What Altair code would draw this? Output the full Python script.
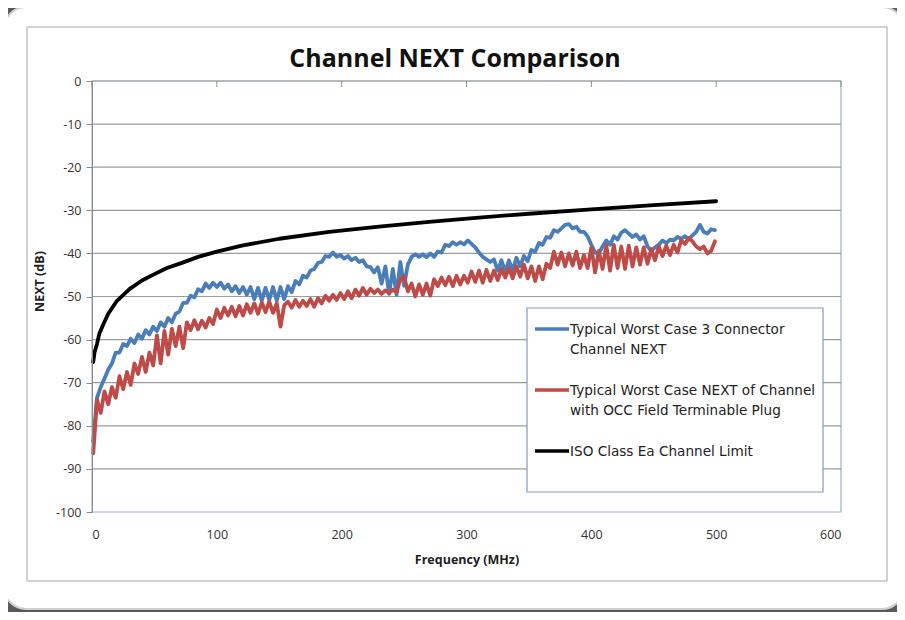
import altair as alt
import pandas as pd

# ---------------- data ----------------
FREQ_START = 1      # MHz, first sweep point
FREQ_STEP = 3       # MHz between sweep points

BLUE = [
    -83.7, -73.5, -71.0, -69.0, -67.0, -65.5, -63.0, -63.0, -61.0, -61.5,
    -59.8, -60.8, -58.8, -59.8, -57.8, -58.8, -57.0, -58.0, -56.0, -57.0,
    -55.0, -56.0, -54.0, -53.5, -51.5, -51.5, -49.8, -50.2, -48.3, -48.8,
    -47.0, -48.0, -46.8, -47.8, -46.8, -48.2, -47.2, -48.8, -47.6, -49.2,
    -47.8, -49.6, -47.8, -50.6, -48.0, -51.0, -48.0, -50.8, -47.8, -51.0,
    -47.8, -50.6, -47.6, -49.0, -46.4, -47.2, -45.2, -45.6, -44.0, -43.6,
    -42.2, -42.0, -40.6, -40.8, -39.8, -40.8, -40.4, -41.2, -40.6, -41.6,
    -41.0, -42.0, -41.6, -43.0, -43.2, -44.4, -43.2, -47.0, -43.0, -49.4,
    -43.6, -49.6, -42.0, -47.5, -42.6, -40.8, -40.2, -40.8, -40.2, -40.9,
    -40.0, -40.8, -39.6, -39.8, -38.0, -38.3, -37.4, -38.0, -37.4, -37.9,
    -37.0, -37.8, -38.6, -39.8, -40.8, -41.4, -42.0, -41.4, -44.0, -41.6,
    -44.2, -41.6, -44.0, -41.0, -43.0, -40.6, -41.8, -39.2, -39.6, -37.6,
    -38.0, -36.2, -36.4, -34.6, -35.0, -34.2, -33.4, -33.2, -34.2, -33.8,
    -35.0, -35.0, -36.0, -38.0, -39.8, -40.0, -38.4, -37.0, -38.0, -36.0,
    -36.8, -35.2, -34.6, -35.4, -36.2, -35.6, -36.8, -36.0, -38.4, -39.4,
    -38.6, -38.0, -37.0, -37.6, -36.8, -37.0, -36.2, -36.6, -36.0, -36.8,
    -35.8, -35.0, -33.4, -35.0, -35.4, -34.4, -34.6,
]

RED = [
    -86.4, -74.0, -77.0, -72.0, -75.0, -71.0, -73.5, -68.5, -71.5, -67.5,
    -70.5, -65.5, -68.0, -64.0, -67.5, -63.0, -66.0, -59.0, -65.5, -58.0,
    -63.5, -57.5, -61.5, -57.0, -62.0, -56.0, -57.8, -55.5, -57.6, -55.6,
    -57.2, -55.0, -56.4, -53.0, -55.0, -52.6, -54.4, -52.4, -54.6, -52.2,
    -54.4, -51.8, -53.8, -51.6, -54.0, -51.4, -53.6, -51.2, -53.8, -51.6,
    -57.0, -52.0, -51.2, -52.6, -50.8, -52.4, -51.0, -52.2, -50.6, -52.4,
    -50.4, -51.6, -49.8, -51.0, -49.6, -50.8, -49.2, -50.6, -48.8, -50.4,
    -48.4, -49.8, -48.0, -49.6, -48.2, -49.2, -48.4, -49.4, -48.6, -49.2,
    -48.4, -49.0, -46.0, -45.4, -48.8, -47.0, -50.0, -47.2, -49.6, -47.0,
    -49.8, -46.0, -47.6, -45.6, -47.4, -45.4, -47.6, -45.2, -47.2, -45.2,
    -46.8, -44.2, -46.6, -44.0, -46.8, -43.8, -46.4, -44.0, -46.2, -43.6,
    -45.6, -43.4, -45.8, -43.0, -45.4, -42.6, -45.8, -43.0, -46.4, -43.0,
    -46.0, -42.4, -43.4, -39.6, -42.6, -39.8, -43.0, -40.0, -42.8, -39.6,
    -43.4, -40.4, -43.4, -38.6, -44.4, -39.4, -43.6, -38.2, -44.0, -38.0,
    -43.4, -38.4, -43.6, -38.2, -43.0, -38.6, -42.6, -38.6, -42.4, -39.0,
    -41.6, -38.4, -40.6, -38.2, -40.4, -38.0, -39.8, -37.0, -37.8, -36.4,
    -37.2, -38.4, -39.0, -38.4, -40.0, -39.4, -37.2,
]

BLACK_F = [1, 2, 4, 6, 9, 13, 20, 30, 40, 50, 60, 72, 85, 100, 120, 150,
           190, 230, 270, 310, 350, 400, 450, 500]
BLACK_V = [-65.2, -63.0, -61.0, -58.5, -56.5, -54.0, -51.0, -48.3, -46.3,
           -44.8, -43.4, -42.2, -40.8, -39.6, -38.2, -36.6, -35.0, -33.8,
           -32.7, -31.7, -30.8, -29.8, -28.8, -27.9]

TITLE = "Channel NEXT Comparison"
SERIES = [
    "Typical Worst Case 3 Connector Channel NEXT",
    "Typical Worst Case NEXT of Channel with OCC Field Terminable Plug",
    "ISO Class Ea Channel Limit",
]
LEGEND_LINES = [
    ["Typical Worst Case 3 Connector", "Channel NEXT"],
    ["Typical Worst Case NEXT of Channel", "with OCC Field Terminable Plug"],
    ["ISO Class Ea Channel Limit"],
]
COLORS = ["#4a7ebb", "#be4b48", "#000000"]

X_TICKS = [0, 100, 200, 300, 400, 500, 600]
Y_TICKS = [0, -10, -20, -30, -40, -50, -60, -70, -80, -90, -100]

# ---------------- tables ----------------
rows = []
for i, v in enumerate(BLUE):
    rows.append({"freq": FREQ_START + FREQ_STEP * i, "next": v, "series": SERIES[0], "k": 0})
for i, v in enumerate(RED):
    rows.append({"freq": FREQ_START + FREQ_STEP * i, "next": v, "series": SERIES[1], "k": 1})
for f, v in zip(BLACK_F, BLACK_V):
    rows.append({"freq": f, "next": v, "series": SERIES[2], "k": 2})
df = pd.DataFrame(rows)

X_MIN, X_MAX = X_TICKS[0], X_TICKS[-1]
Y_MIN, Y_MAX = Y_TICKS[-1], Y_TICKS[0]
grid_df = pd.DataFrame({"y": Y_TICKS[:-1], "x0": X_MIN, "x1": X_MAX})
tick_df = pd.DataFrame({"x": X_TICKS})
box_df = pd.DataFrame({"x0": [X_MIN], "x1": [X_MAX], "y0": [Y_MAX], "y1": [Y_MIN]})
one = pd.DataFrame({"a": [0]})

FONT = "Open Sans"
LFONT = "DejaVu Sans"
W, H = 749, 431

xs = alt.Scale(domain=[X_MIN, X_MAX], nice=False, zero=False)
ys = alt.Scale(domain=[Y_MIN, Y_MAX], nice=False)

x_axis = alt.Axis(values=X_TICKS, grid=False, domain=False, ticks=False,
                  labelPadding=16, labelFontSize=12.5, labelColor="#333333",
                  labelFont=FONT, title="Frequency (MHz)", titleFont=FONT,
                  titleFontSize=12.5, titleFontWeight="bold", titleColor="#222222",
                  titlePadding=13, zindex=1)
y_axis = alt.Axis(values=Y_TICKS, grid=False, domainColor="#8c8c8c",
                  tickColor="#8c8c8c", tickSize=6, labelPadding=5,
                  labelExpr="'' + datum.value",
                  labelFontSize=12.5, labelColor="#333333", labelFont=FONT,
                  title="NEXT (dB)", titleFont=FONT, titleFontSize=12.5,
                  titleFontWeight="bold", titleColor="#222222",
                  titleX=-46, titleY=200, zindex=1)

card = alt.Chart(one).mark_rect(
    fill="white", stroke="#cfcfcf", strokeWidth=2, cornerRadius=22
).encode(x=alt.value(-88), x2=alt.value(812), y=alt.value(-74), y2=alt.value(528))

frame = alt.Chart(one).mark_rect(
    fill="white", fillOpacity=0, stroke="#a6a6a6", strokeWidth=1
).encode(x=alt.value(-65), x2=alt.value(795), y=alt.value(-54), y2=alt.value(500))

title = alt.Chart(one).mark_text(
    font=FONT, fontSize=25, fontWeight="bold", color="#111111",
    align="center", baseline="middle"
).encode(x=alt.value(363), y=alt.value(-22), text=alt.value(TITLE))

plot_box = alt.Chart(box_df).mark_rect(
    fillOpacity=0, stroke="#9fb2cf", strokeWidth=1.2
).encode(x=alt.X("x0:Q", scale=xs, axis=x_axis), x2="x1:Q",
         y=alt.Y("y0:Q", scale=ys, axis=y_axis), y2="y1:Q")

grid = alt.Chart(grid_df).mark_rule(color="#9c9c9c", strokeWidth=1.2).encode(
    y=alt.Y("y:Q", scale=ys, axis=y_axis),
    x=alt.X("x0:Q", scale=xs, axis=x_axis), x2="x1:Q")

top_ticks = alt.Chart(tick_df).mark_rule(color="#8c8c8c", strokeWidth=1).encode(
    x=alt.X("x:Q", scale=xs, axis=x_axis), y=alt.value(0), y2=alt.value(6))

lines = alt.Chart(df).mark_line(strokeWidth=3.8, strokeJoin="round", strokeCap="round").encode(
    x=alt.X("freq:Q", scale=xs, axis=x_axis),
    y=alt.Y("next:Q", scale=ys, axis=y_axis),
    color=alt.Color("series:N", scale=alt.Scale(domain=SERIES, range=COLORS), legend=None),
    order="freq:Q",
    detail="k:N",
)

# ---- legend (drawn by hand so the line spacing matches) ----
LEG_X0, LEG_Y0, LEG_W, LEG_H = 435, 227, 296, 184
legend_layers = [
    alt.Chart(one).mark_rect(fill="white", stroke="#7f9cc4", strokeWidth=1.2).encode(
        x=alt.value(LEG_X0), x2=alt.value(LEG_X0 + LEG_W),
        y=alt.value(LEG_Y0), y2=alt.value(LEG_Y0 + LEG_H))
]
for i, (txt, col) in enumerate(zip(LEGEND_LINES, COLORS)):
    cy = LEG_Y0 + 21 + 61 * i
    legend_layers.append(
        alt.Chart(one).mark_rule(color=col, strokeWidth=3.6).encode(
            x=alt.value(LEG_X0 + 8), x2=alt.value(LEG_X0 + 42),
            y=alt.value(cy), y2=alt.value(cy)))
    for j, line in enumerate(txt):
        legend_layers.append(
            alt.Chart(one).mark_text(align="left", baseline="middle", font=LFONT,
                                     fontSize=13.6, color="#222222").encode(
                x=alt.value(LEG_X0 + 43), y=alt.value(cy + 1 + 20 * j),
                text=alt.value(line)))

chart = alt.layer(card, frame, title, plot_box, grid, lines, top_ticks, *legend_layers).properties(
    width=W, height=H,
    background="#5a5a5a",
    padding={"left": 84, "top": 73, "right": 56, "bottom": 100},
    autosize=alt.AutoSizeParams(type="none"),
).configure_view(stroke=None)

chart.save("out.html", embed_options={"renderer": "svg", "actions": False})
